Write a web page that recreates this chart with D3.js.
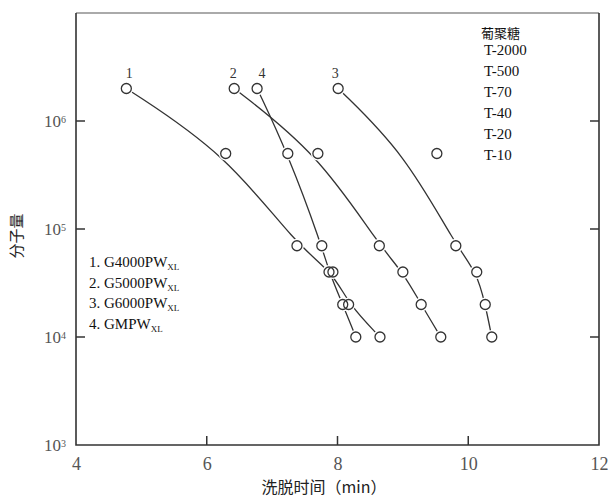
<!DOCTYPE html>
<html>
<head>
<meta charset="utf-8">
<script src="https://cdn.jsdelivr.net/npm/d3@7"></script>
<style>
  body { margin: 0; background: #fff; }
  svg { display: block; }
</style>
</head>
<body>
<svg id="chart" width="611" height="500"></svg>
<script>
// dextran standards (molecular weight) and elution times (min) per column
const dextranNames = ["T-2000", "T-500", "T-70", "T-40", "T-20", "T-10"];
const molWeights = [2000000, 500000, 70000, 40000, 20000, 10000];

const times1 = [4.77, 6.29, 7.38, 7.93, 8.17, 8.65];   // G4000PWXL
const times2 = [6.42, 7.70, 8.64, 9.00, 9.28, 9.58];   // G5000PWXL
const times3 = [8.01, 9.52, 9.81, 10.13, 10.26, 10.36]; // G6000PWXL
const times4 = [6.77, 7.24, 7.76, 7.87, 8.08, 8.28];   // GMPWXL

// fitted curve for column 3 (the T-500 point lies off the curve)
const fit3 = [8.01, 9.03, 9.81, 10.13, 10.26, 10.36];

const seriesNames = ["1", "2", "3", "4"];
const columnNames = ["G4000PW", "G5000PW", "G6000PW", "GMPW"];
const xTicks = [4, 6, 8, 10, 12];
const yTicks = [1e3, 1e4, 1e5, 1e6];

const svg = d3.select("#chart");
const serif = "'Liberation Serif', 'DejaVu Serif', serif";
const cjk = "'Noto Sans CJK SC', sans-serif";
const ink = "#333";

const plotL = 76, plotR = 599, plotT = 13, plotB = 445;
const x = d3.scaleLinear().domain([4, 12]).range([plotL, plotR]);
const y = d3.scaleLog().domain([1e3, 1e7]).range([plotB, plotT]);

// frame
svg.append("line").attr("x1", plotL).attr("x2", plotR).attr("y1", plotT).attr("y2", plotT)
  .attr("stroke", "#aaa").attr("stroke-width", 2);
svg.append("path")
  .attr("d", `M${plotL},${plotT}V${plotB}H${plotR}V${plotT}`)
  .attr("fill", "none").attr("stroke", ink).attr("stroke-width", 1.6);

// bottom axis
const xAxis = svg.append("g").attr("transform", `translate(0,${plotB})`)
  .call(d3.axisBottom(x).tickValues(xTicks).tickSize(0).tickPadding(12).tickFormat(d3.format("d")));
xAxis.select(".domain").remove();
xAxis.selectAll("text").attr("font-family", serif).attr("font-size", 18).attr("fill", "#555");
svg.append("g").selectAll("line").data(xTicks.slice(1, -1)).join("line")
  .attr("x1", d => x(d)).attr("x2", d => x(d))
  .attr("y1", plotB).attr("y2", plotB - 9)
  .attr("stroke", ink).attr("stroke-width", 1.5);

// left axis, log ticks written as 10^n
const yAxis = svg.append("g").attr("transform", `translate(${plotL},0)`)
  .call(d3.axisLeft(y).tickValues(yTicks).tickSize(0).tickPadding(10).tickFormat(""));
yAxis.select(".domain").remove();
yAxis.selectAll(".tick").each(function(d) {
  const t = d3.select(this).append("text")
    .attr("x", -10).attr("dy", "0.35em").attr("text-anchor", "end")
    .attr("font-family", serif).attr("font-size", 17).attr("fill", "#555");
  t.append("tspan").text("10");
  t.append("tspan").attr("dy", "-0.45em").attr("font-size", 10).text(Math.round(Math.log10(d)));
});
svg.append("g").selectAll("line").data(yTicks.slice(1)).join("line")
  .attr("x1", plotL).attr("x2", plotL + 9)
  .attr("y1", d => y(d)).attr("y2", d => y(d))
  .attr("stroke", ink).attr("stroke-width", 1.5);
svg.append("g").selectAll("line").data(yTicks.slice(1)).join("line")
  .attr("x1", plotR).attr("x2", plotR - 9)
  .attr("y1", d => y(d)).attr("y2", d => y(d))
  .attr("stroke", ink).attr("stroke-width", 1.5);

// axis titles
svg.append("text").attr("x", 324).attr("y", 493).attr("text-anchor", "middle")
  .attr("font-family", cjk).attr("font-size", 16).attr("fill", "#222")
  .text("洗脱时间（min）");
svg.append("text").attr("transform", "translate(22,236) rotate(-90)")
  .attr("text-anchor", "middle")
  .attr("font-family", cjk).attr("font-size", 15).attr("fill", "#222")
  .text("分子量");

// curves (smoothed, like hand-fitted calibration lines)
const allTimes = [times1, times2, times3, times4];
const fits = [times1, times2, fit3, times4];
const line = d3.line().x(d => x(d[0])).y(d => y(d[1])).curve(d3.curveBasis);

fits.forEach(ts => {
  svg.append("path")
    .datum(ts.map((t, i) => [t, molWeights[i]]))
    .attr("d", line)
    .attr("fill", "none").attr("stroke", ink).attr("stroke-width", 1.3);
});

// markers: white halo gives the small gap where a curve meets a circle
allTimes.forEach(ts => {
  const pts = ts.map((t, i) => [t, molWeights[i]]);
  svg.append("g").selectAll("circle").data(pts).join("circle")
    .attr("cx", d => x(d[0])).attr("cy", d => y(d[1])).attr("r", 5.5)
    .attr("fill", "#fff").attr("stroke", "#fff").attr("stroke-width", 3);
});
allTimes.forEach(ts => {
  const pts = ts.map((t, i) => [t, molWeights[i]]);
  svg.append("g").selectAll("circle").data(pts).join("circle")
    .attr("cx", d => x(d[0])).attr("cy", d => y(d[1])).attr("r", 5)
    .attr("fill", "none").attr("stroke", ink).attr("stroke-width", 1.3);
});

// series numbers above the first point
const labelOffsets = [3, -1, -3, 5];
allTimes.forEach((ts, i) => {
  svg.append("text")
    .attr("x", x(ts[0]) + labelOffsets[i]).attr("y", y(molWeights[0]) - 10)
    .attr("text-anchor", "middle")
    .attr("font-family", serif).attr("font-size", 14).attr("fill", ink)
    .text(seriesNames[i]);
});

// dextran legend
svg.append("text").attr("x", 481).attr("y", 38)
  .attr("font-family", cjk).attr("font-size", 13).attr("fill", "#111")
  .text("葡聚糖");
svg.append("g").selectAll("text").data(dextranNames).join("text")
  .attr("x", 484).attr("y", (d, i) => 55 + i * 21)
  .attr("font-family", serif).attr("font-size", 15).attr("fill", "#111")
  .text(d => d);

// column legend
const legend = svg.append("g").selectAll("text").data(columnNames).join("text")
  .attr("x", 89).attr("y", (d, i) => 267 + i * 20.5)
  .attr("font-family", serif).attr("font-size", 15).attr("fill", "#111");
legend.append("tspan").text((d, i) => `${seriesNames[i]}. ${d}`);
legend.append("tspan").attr("dy", 3).attr("font-size", 9).text("XL");
</script>
</body>
</html>
